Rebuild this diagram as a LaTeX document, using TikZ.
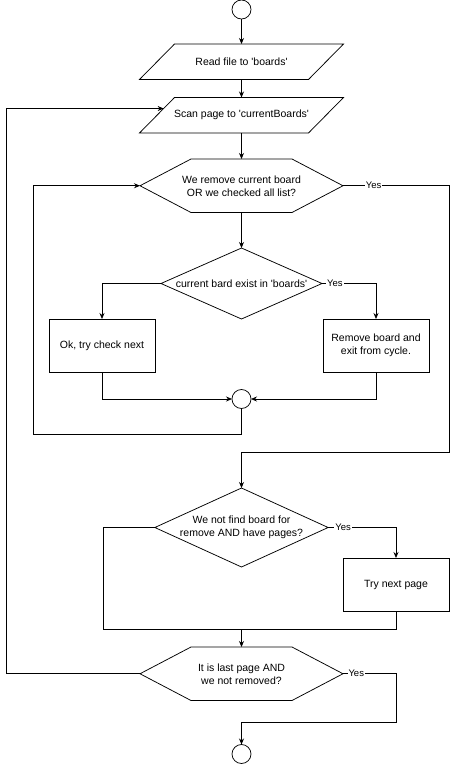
\documentclass[tikz,border=0pt]{standalone}
\usepackage{fontspec}
\setmainfont{Liberation Sans}
\usepackage{tikz}
\usetikzlibrary{positioning,shapes.geometric,arrows.meta,calc}

\begin{document}
\begin{tikzpicture}[x=1pt, y=1pt, line width=0.75pt,
    >={Stealth[length=6pt,width=5pt]},
    font=\fontsize{10.5}{13}\selectfont,
    every node/.style={align=center, outer sep=0pt},
    terminal/.style={draw, circle, minimum size=19pt, inner sep=0pt},
    io/.style={minimum width=169pt, minimum height=35.5pt, inner sep=0pt},
    loopcheck/.style={minimum width=203pt, minimum height=53.5pt, inner sep=0pt},
    decision/.style={draw, diamond, aspect=2.2, inner sep=0pt},
    process/.style={draw, rectangle, minimum width=106pt, minimum height=53.5pt},
    yeslab/.style={fill=white, inner sep=1pt, font=\fontsize{9.5}{11}\selectfont}]
    \useasboundingbox (0,0) rectangle (458,-764);

    % Column
    \node[terminal] (start) at (241.5,-9.5) {};
    \node[io, below=25pt of start] (read) {Read file to \textquotesingle boards\textquotesingle};
    \node[io, below=18pt of read] (scan) {Scan page to \textquotesingle currentBoards\textquotesingle};
    \node[loopcheck, below=26pt of scan] (hexA) {We remove current board\\ OR we checked all list?};
    \node[decision, minimum width=161pt, minimum height=71pt, below=35.5pt of hexA] (diaA) {current bard exist in \textquotesingle boards\textquotesingle};
    \node[process, anchor=north] (okbox) at ([xshift=-139.5pt]diaA.south) {Ok, try check next};
    \node[process, anchor=north] (delbox) at ([xshift=134.5pt]diaA.south) {Remove board and\\exit from cycle.};
    \node[terminal, below=70.5pt of diaA] (merge) {};
    \node[decision, minimum width=173pt, minimum height=79pt, below=79.5pt of merge] (diaB) {We not find board for\\remove AND have pages?};
    \node[process, anchor=north] (nextbox) at ([xshift=154.5pt,yshift=-30.5pt]diaB.center) {Try next page};
    \node[loopcheck, below=80pt of diaB] (hexB) {It is last page AND\\ we not removed?};
    \node[terminal, below=44pt of hexB] (finish) {};

    % Parallelograms
    \foreach \p in {read,scan}
      \draw ([xshift=17.5pt]\p.north west) -- ([xshift=17.5pt]\p.north east)
        -- ([xshift=-17.5pt]\p.south east) -- ([xshift=-17.5pt]\p.south west) -- cycle;

    % Hexagons
    \foreach \h in {hexA,hexB}
      \draw (\h.west) -- ([xshift=51pt]\h.north west) -- ([xshift=-51pt]\h.north east)
        -- (\h.east) -- ([xshift=-51pt]\h.south east) -- ([xshift=51pt]\h.south west) -- cycle;

    % Arrows
    \draw[->] (start) -- (read);
    \draw[->] (read) -- (scan);
    \draw[->] (scan) -- (hexA);
    \draw[->] (hexA) -- (diaA);
    \draw[->] (diaA.west) -| (okbox);
    \draw[->] (diaA.east) -| node[yeslab, pos=0.12]{Yes} (delbox);
    \draw[->] (okbox) |- (merge);
    \draw[->] (delbox) |- (merge);
    \draw[->] (merge.south) -- ++(0,-25.5pt) -| ([xshift=-106.5pt]hexA.west) -- (hexA.west);
    \draw[->] (hexA.east) -- node[yeslab, pos=0.29]{Yes} ++(106pt,0)
      |- ([yshift=36pt]diaB.north) -- (diaB.north);
    \draw[->] (diaB.east) -| node[yeslab, pos=0.11]{Yes} (nextbox);
    \coordinate (join) at ([yshift=18pt]hexB.north);
    \draw (diaB.west) -- ++(-51pt,0) |- (join);
    \draw (nextbox) |- (join);
    \draw[->] (join) -- (hexB);
    \draw[->] (hexB.east) -- node[yeslab, pos=0.25]{Yes} ++(53pt,0)
      |- ([yshift=22pt]finish.north) -- (finish);
    \coordinate (scanin) at ($([xshift=17.5pt]scan.north west)!0.31!([xshift=-17.5pt]scan.south west)$);
    \draw[->] (hexB.west) -- ++(-133.5pt,0) |- (scanin);
  \end{tikzpicture}
\end{document}
